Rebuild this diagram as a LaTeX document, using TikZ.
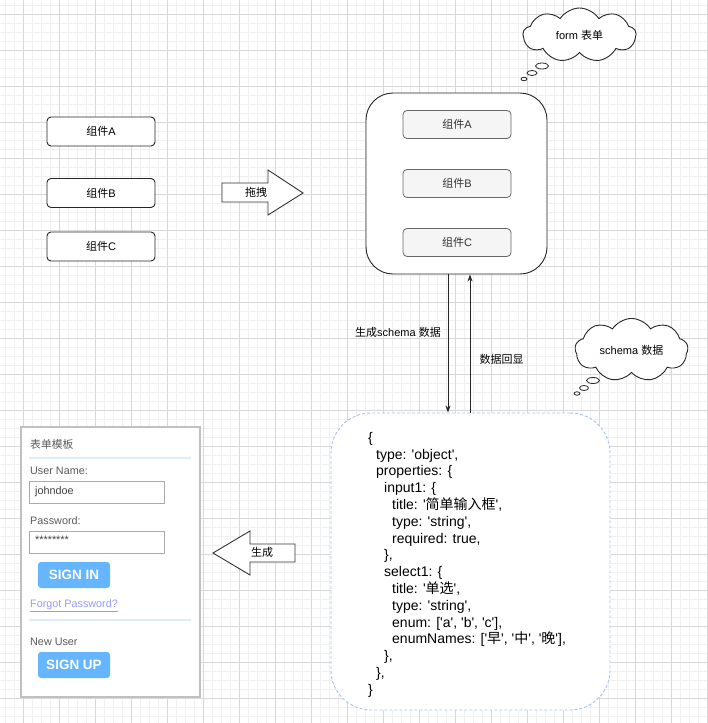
\documentclass[tikz,border=0pt]{standalone}
\usepackage{fontspec}
\setmainfont{Liberation Sans}[Ligatures=TeXOff]
\newfontfamily\cjk{Noto Sans CJK SC}
\newcommand{\zh}[1]{{\cjk #1}}
\usetikzlibrary{positioning, arrows.meta, shapes.symbols, shapes.geometric}
\usepackage{xcolor}
\definecolor{gridminor}{RGB}{240,240,240}
\definecolor{gridmajor}{RGB}{216,216,216}
\definecolor{slotfill}{RGB}{245,245,245}
\definecolor{slotline}{RGB}{102,102,102}
\definecolor{dashblue}{RGB}{169,196,235}
\definecolor{panelline}{RGB}{192,192,192}
\definecolor{inputline}{RGB}{170,170,170}
\definecolor{sepblue}{RGB}{221,236,255}
\definecolor{btnblue}{RGB}{102,182,255}
\definecolor{linkcolor}{RGB}{153,153,255}
\definecolor{labelgray}{RGB}{90,90,90}

\begin{document}
\begin{tikzpicture}[x=1pt, y=-1pt]
  \tikzset{
    minorline/.style={gridminor, line width=0.6pt},
    majorline/.style={gridmajor, line width=0.7pt},
    comp/.style={
      draw=black!85,
      line width=0.9pt,
      rounded corners=4pt,
      fill=white,
      minimum width=108pt,
      minimum height=29pt,
      font=\fontsize{11}{13}\selectfont
    },
    slot/.style={
      draw=slotline,
      line width=0.8pt,
      rounded corners=4pt,
      fill=slotfill,
      minimum width=108pt,
      minimum height=28pt,
      text=black!80,
      font=\fontsize{11}{13}\selectfont
    },
    thought/.style={
      cloud, draw=black!85, line width=0.9pt, fill=white,
      cloud puffs=9, cloud puff arc=115, aspect=2.1,
      minimum width=113pt, minimum height=54pt,
      font=\fontsize{11}{13}\selectfont
    },
    bubble/.style={ellipse, draw=black!85, line width=0.8pt, fill=white, inner sep=0pt},
    blockarrow/.style={draw=black!80, line width=0.9pt, fill=white},
    flow/.style={-{Stealth[length=7pt,width=5pt]}, line width=0.9pt, black!85},
    small/.style={font=\fontsize{11}{13}\selectfont},
    formtext/.style={anchor=west, text=labelgray, inner sep=0pt, font=\fontsize{10.8}{13}\selectfont},
    inputbox/.style={draw=inputline, line width=1pt, fill=white, minimum width=135pt, minimum height=22pt},
    button/.style={fill=btnblue, rounded corners=3pt, minimum width=72pt, minimum height=26pt,
      text=white, font=\fontsize{13.5}{15}\selectfont\bfseries},
    sepline/.style={sepblue, line width=1.6pt}
  }
  \useasboundingbox (0,0) rectangle (707,723);

  % background grid
  \foreach \x in {5,14,...,707} \draw[minorline] (\x,0) -- (\x,723);
  \foreach \y in {5,14,...,723} \draw[minorline] (0,\y) -- (707,\y);
  \foreach \x in {23,59,...,707} \draw[majorline] (\x,0) -- (\x,723);
  \foreach \y in {14,50,...,723} \draw[majorline] (0,\y) -- (707,\y);

  % components to drag
  \node[comp] at (101, 131.5) (compA) {\zh{组件}A};
  \node[comp] at (101, 193) (compB) {\zh{组件}B};
  \node[comp] at (101, 246.5) (compC) {\zh{组件}C};

  % drag arrow
  \draw[blockarrow] (222,183) -- (268,183) -- (268,170) -- (303,193)
    -- (268,215) -- (268,202) -- (222,202) -- cycle;
  \node[small] at (256, 192) (drag) {\zh{拖拽}};

  % form container
  \node[draw=black!85, line width=0.9pt, rounded corners=27pt, fill=white,
        minimum width=181pt, minimum height=181pt] at (456.5, 183.5) (form) {};
  \node[slot] at (457, 124.5) (slotA) {\zh{组件}A};
  \node[slot] at (457, 183.5) (slotB) {\zh{组件}B};
  \node[slot] at (457, 242.5) (slotC) {\zh{组件}C};

  % thought clouds
  \node[thought] at (579.5, 35) (formcloud) {form \zh{表单}};
  \node[bubble, minimum width=13pt, minimum height=6pt] at (542, 66) (fb1) {};
  \node[bubble, minimum width=10pt, minimum height=5pt] at (532, 73) (fb2) {};
  \node[bubble, minimum width=6pt, minimum height=3.5pt] at (524, 79) (fb3) {};

  \node[thought] at (631.5, 350) (schemacloud) {schema \zh{数据}};
  \node[bubble, minimum width=13pt, minimum height=6pt] at (593, 380.5) (sb1) {};
  \node[bubble, minimum width=9pt, minimum height=5pt] at (584, 388) (sb2) {};
  \node[bubble, minimum width=6pt, minimum height=3.5pt] at (577, 393.5) (sb3) {};

  % schema box
  \node[draw=dashblue, dash pattern=on 3pt off 2pt, line width=0.9pt, rounded corners=40pt, fill=white,
        minimum width=279pt, minimum height=297pt] at (470.5, 561.5) (schema) {};
  \node[anchor=north west, align=left, inner sep=0pt,
        font=\fontsize{14}{16.8}\selectfont] at (368, 432) (code) {%
    \{\\
    \hspace*{8pt}type: 'object',\\
    \hspace*{8pt}properties: \{\\
    \hspace*{16pt}input1: \{\\
    \hspace*{24pt}title: '\zh{简单输入框}',\\
    \hspace*{24pt}type: 'string',\\
    \hspace*{24pt}required: true,\\
    \hspace*{16pt}\},\\
    \hspace*{16pt}select1: \{\\
    \hspace*{24pt}title: '\zh{单选}',\\
    \hspace*{24pt}type: 'string',\\
    \hspace*{24pt}enum: ['a', 'b', 'c'],\\
    \hspace*{24pt}enumNames: ['\zh{早}', '\zh{中}', '\zh{晚}'],\\
    \hspace*{16pt}\},\\
    \hspace*{8pt}\},\\
    \}};

  % generate / echo arrows
  \draw[flow] ([xshift=-8.5pt]form.south) -- ([xshift=-8.5pt]form.south |- schema.north);
  \draw[flow] ([xshift=13.5pt]form.south |- schema.north) -- ([xshift=13.5pt]form.south);
  \node[small] at (398, 332) (genlabel) {\zh{生成}schema \zh{数据}};
  \node[small] at (501.5, 359) (echolabel) {\zh{数据回显}};

  % build arrow
  \draw[blockarrow] (295,544) -- (250,544) -- (250,531) -- (213,553)
    -- (250,575) -- (250,562) -- (295,562) -- cycle;
  \node[small] at (262, 552) (build) {\zh{生成}};

  % form template
  \node[draw=panelline, line width=1.4pt, fill=white, minimum width=179pt,
        minimum height=270pt] at (110.5, 562) (panel) {};
  \node[formtext] at (30, 444) (ptitle) {\zh{表单模板}};
  \draw[sepline] (29,458) -- (191,458);
  \node[formtext] at (30, 471) (uname) {User Name:};
  \node[inputbox] at (96.5, 492) (uinput) {};
  \node[formtext, text=black!75] at (35, 492) (uvalue) {johndoe};
  \node[formtext] at (30, 521) (pword) {Password:};
  \node[inputbox] at (96.5, 542) (pinput) {};
  \node[formtext, text=black!75] at (35, 540) (pvalue) {********};
  \node[button] at (74, 575) (signin) {SIGN IN};
  \node[formtext, text=linkcolor] at (30, 606) (forgot) {\underline{Forgot Password?}};
  \draw[sepline] (29,620) -- (191,620);
  \node[formtext] at (30, 642) (newuser) {New User};
  \node[button] at (74, 665) (signup) {SIGN UP};

\end{tikzpicture}
\end{document}
